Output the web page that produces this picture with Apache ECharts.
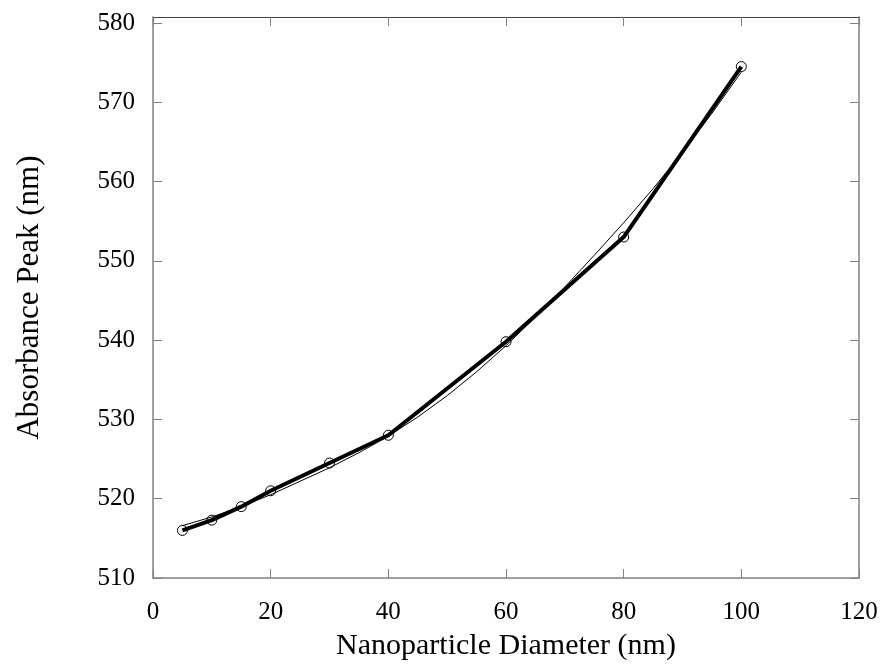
<!DOCTYPE html>
<html>
<head>
<meta charset="utf-8">
<script src="https://cdn.jsdelivr.net/npm/echarts@6/dist/echarts.min.js"></script>
<style>html,body{margin:0;padding:0;background:#fff}#c{width:883px;height:666px}</style>
</head>
<body>
<div id="c"></div>
<script>
// Data
const diameters = [5, 10, 15, 20, 30, 40, 60, 80, 100];
const peaks = [516.0, 517.3, 519.0, 521.0, 524.5, 528.0, 539.8, 553.0, 574.5];
const fitX = [5, 10, 15, 20, 25, 30, 35, 40, 45, 50, 55, 60, 65, 70, 75, 80, 85, 90, 95, 100];
const fitY = [516.6, 517.7, 519.0, 520.5, 522.2, 523.9, 525.8, 527.9, 530.3, 533.0, 536.0, 539.3, 542.9, 546.7, 550.7, 554.8, 559.1, 563.7, 568.6, 573.8];
const xTicks = [0, 20, 40, 60, 80, 100, 120];
const yTicks = [510, 520, 530, 540, 550, 560, 570, 580];

const FONT = 'Liberation Serif';
const chart = echarts.init(document.getElementById('c'));
const gray = '#808080';
chart.setOption({
  animation: false,
  backgroundColor: '#fff',
  grid: {left: 153, right: 24, top: 17, bottom: 87},
  xAxis: [{
    type: 'value', min: 0, max: 120, interval: 20,
    name: 'Nanoparticle Diameter (nm)', nameLocation: 'middle', nameGap: 53,
    nameTextStyle: {fontFamily: FONT, fontSize: 30, color: '#000'},
    axisLine: {onZero: false, lineStyle: {color: gray, width: 1.5}},
    axisTick: {inside: true, length: 9, lineStyle: {color: gray}},
    axisLabel: {fontFamily: FONT, fontSize: 25, color: '#000', margin: 22},
    splitLine: {show: false}
  }, {
    type: 'value', position: 'top', min: 0, max: 120, interval: 20,
    axisLine: {onZero: false, lineStyle: {color: '#404040', width: 1}},
    axisTick: {inside: true, length: 9, lineStyle: {color: gray}},
    axisLabel: {show: false}, splitLine: {show: false}
  }],
  yAxis: [{
    type: 'value', min: 510, max: 580.75,
    name: 'Absorbance Peak (nm)', nameLocation: 'middle', nameGap: 108,
    nameTextStyle: {fontFamily: FONT, fontSize: 31, color: '#000'},
    axisLine: {onZero: false, lineStyle: {color: gray, width: 1.5}},
    axisTick: {inside: true, length: 9, customValues: yTicks, lineStyle: {color: gray}},
    axisLabel: {fontFamily: FONT, fontSize: 25, color: '#000', margin: 18, customValues: yTicks},
    splitLine: {show: false}
  }, {
    type: 'value', position: 'right', min: 510, max: 580.75,
    axisLine: {show: true, onZero: false, lineStyle: {color: gray, width: 1.5}},
    axisTick: {show: true, inside: true, length: 9, customValues: yTicks, lineStyle: {color: gray}},
    axisLabel: {show: false}, splitLine: {show: false}
  }],
  series: [{
    type: 'line', name: 'fit',
    data: fitX.map((x, i) => [x, fitY[i]]),
    showSymbol: false, smooth: false,
    lineStyle: {color: '#000', width: 1}, z: 3
  }, {
    type: 'line', name: 'data',
    data: diameters.map((x, i) => [x, peaks[i]]),
    symbol: 'circle', symbolSize: 10,
    itemStyle: {color: 'rgba(0,0,0,0)', borderColor: '#000', borderWidth: 1},
    lineStyle: {color: '#000', width: 4}, z: 2
  }]
});
</script>
</body>
</html>
